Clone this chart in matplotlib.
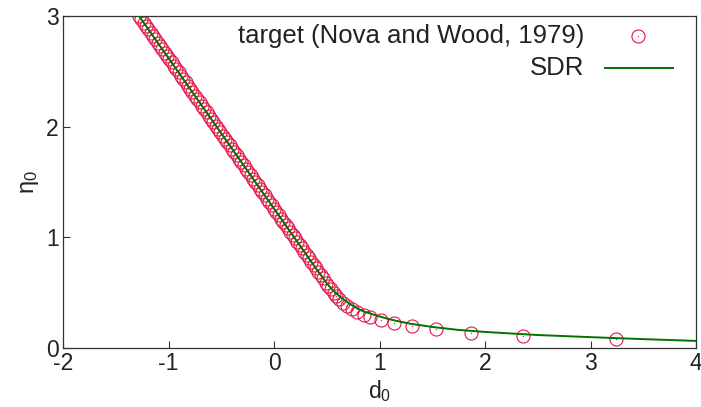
import matplotlib
matplotlib.use("Agg")
import matplotlib.pyplot as plt

plt.rcParams["font.family"] = ["Liberation Sans", "DejaVu Sans"]
plt.rcParams["mathtext.fontset"] = "custom"
plt.rcParams["mathtext.rm"] = "Liberation Sans"
plt.rcParams["mathtext.it"] = "Liberation Sans"

# ── Data: target (Nova and Wood, 1979) ──────────────────────────
target_d0 = [
    -1.280, -1.258, -1.236, -1.214, -1.192, -1.170, -1.148, -1.126, -1.104, -1.081,
    -1.059, -1.037, -1.015, -0.993, -0.971, -0.949, -0.927, -0.905, -0.883, -0.861,
    -0.839, -0.817, -0.795, -0.773, -0.751, -0.728, -0.706, -0.684, -0.662, -0.640,
    -0.618, -0.596, -0.574, -0.552, -0.530, -0.508, -0.486, -0.464, -0.442, -0.420,
    -0.398, -0.376, -0.354, -0.331, -0.309, -0.287, -0.265, -0.243, -0.221, -0.199,
    -0.177, -0.155, -0.133, -0.111, -0.089, -0.067, -0.045, -0.023, -0.001, 0.022,
    0.044, 0.066, 0.088, 0.110, 0.132, 0.154, 0.176, 0.198, 0.220, 0.242,
    0.264, 0.286, 0.308, 0.330, 0.352, 0.375, 0.397, 0.419, 0.441, 0.463,
    0.490, 0.515, 0.540, 0.565, 0.590, 0.620, 0.655, 0.690, 0.740, 0.790,
    0.850, 0.910, 1.014, 1.140, 1.311, 1.533, 1.864, 2.363, 3.239,
]
target_eta0 = [
    3.00, 2.97, 2.94, 2.91, 2.88, 2.85, 2.82, 2.79, 2.76, 2.73,
    2.70, 2.67, 2.64, 2.61, 2.58, 2.55, 2.52, 2.49, 2.46, 2.43,
    2.40, 2.37, 2.34, 2.31, 2.28, 2.25, 2.22, 2.19, 2.16, 2.13,
    2.10, 2.07, 2.04, 2.01, 1.98, 1.95, 1.92, 1.89, 1.86, 1.83,
    1.80, 1.77, 1.74, 1.71, 1.68, 1.65, 1.62, 1.59, 1.56, 1.53,
    1.50, 1.47, 1.44, 1.41, 1.38, 1.35, 1.32, 1.29, 1.26, 1.23,
    1.20, 1.17, 1.14, 1.11, 1.08, 1.05, 1.02, 0.99, 0.96, 0.93,
    0.90, 0.87, 0.84, 0.81, 0.78, 0.75, 0.72, 0.69, 0.66, 0.63,
    0.590, 0.560, 0.530, 0.500, 0.470, 0.440, 0.410, 0.380, 0.350, 0.325,
    0.300, 0.283, 0.253, 0.223, 0.199, 0.172, 0.136, 0.108, 0.081,
]

# ── Data: SDR ────────────────────────────────────────────────────
sdr_d0 = [-1.28, 0.40, 0.45, 0.50, 0.55, 0.60, 0.65, 0.70, 0.75, 0.80, 0.85,
          0.90, 1.00, 1.10, 1.20, 1.30, 1.50, 1.75, 2.00, 2.50, 3.00, 3.50, 4.00]
sdr_eta0 = [3.00, 0.715, 0.65, 0.585, 0.53, 0.485, 0.445, 0.41, 0.38, 0.352, 0.33,
            0.315, 0.285, 0.258, 0.237, 0.218, 0.19, 0.163, 0.145, 0.117, 0.098,
            0.08, 0.064]

xticks = [-2, -1, 0, 1, 2, 3, 4]
yticks = [0, 1, 2, 3]

RED = "#e0194a"
GREEN = "#007300"
TXT = "#222222"

fig = plt.figure(figsize=(7.01, 4.07), dpi=100)
ax = fig.add_axes([0.0899, 0.145, 0.903, 0.8157])

ax.plot(target_d0, target_eta0, ls="none", marker="o", ms=9.4,
        mfc="none", mec=RED, mew=0.8, zorder=2)
ax.plot(target_d0, target_eta0, ls="none", marker="o", ms=0.9,
        mfc=RED, mec=RED, mew=0, zorder=2)
ax.plot(sdr_d0, sdr_eta0, color=GREEN, lw=1.4, zorder=3)

ax.set_xlim(-2, 4)
ax.set_ylim(0, 3)
ax.set_xticks(xticks)
ax.set_yticks(yticks)
ax.set_xticklabels([str(v) for v in xticks])
ax.tick_params(direction="in", length=5, width=0.8, labelsize=16.5,
               colors="#333333", labelcolor=TXT, pad=3)
for s in ax.spines.values():
    s.set_linewidth(0.9)
    s.set_color("#333333")

ax.set_xlabel(r"d$_0$", fontsize=16.5, color=TXT, labelpad=2)
ax.set_ylabel(r"η$_0$", fontsize=17, color=TXT, labelpad=4)

# ── Legend (gnuplot-stil, tekst høgrejustert) ───────────────────
tr = ax.transAxes
ax.text(0.8239, 0.940, "target (Nova and Wood, 1979)", transform=tr,
        ha="right", va="center", fontsize=18.5, color=TXT)
ax.text(0.8239, 0.843, "SDR", transform=tr,
        ha="right", va="center", fontsize=18.5, color=TXT)
ax.plot([0.9087], [0.940], transform=tr, ls="none", marker="o", ms=9.4,
        mfc="none", mec=RED, mew=0.8, clip_on=False)
ax.plot([0.9087], [0.940], transform=tr, ls="none", marker="o", ms=0.9,
        mfc=RED, mec=RED, mew=0, clip_on=False)
ax.plot([0.8555, 0.9629], [0.843, 0.843], transform=tr, color=GREEN, lw=1.4)

fig.savefig("out.png", dpi=100, facecolor="white")
plt.close()
